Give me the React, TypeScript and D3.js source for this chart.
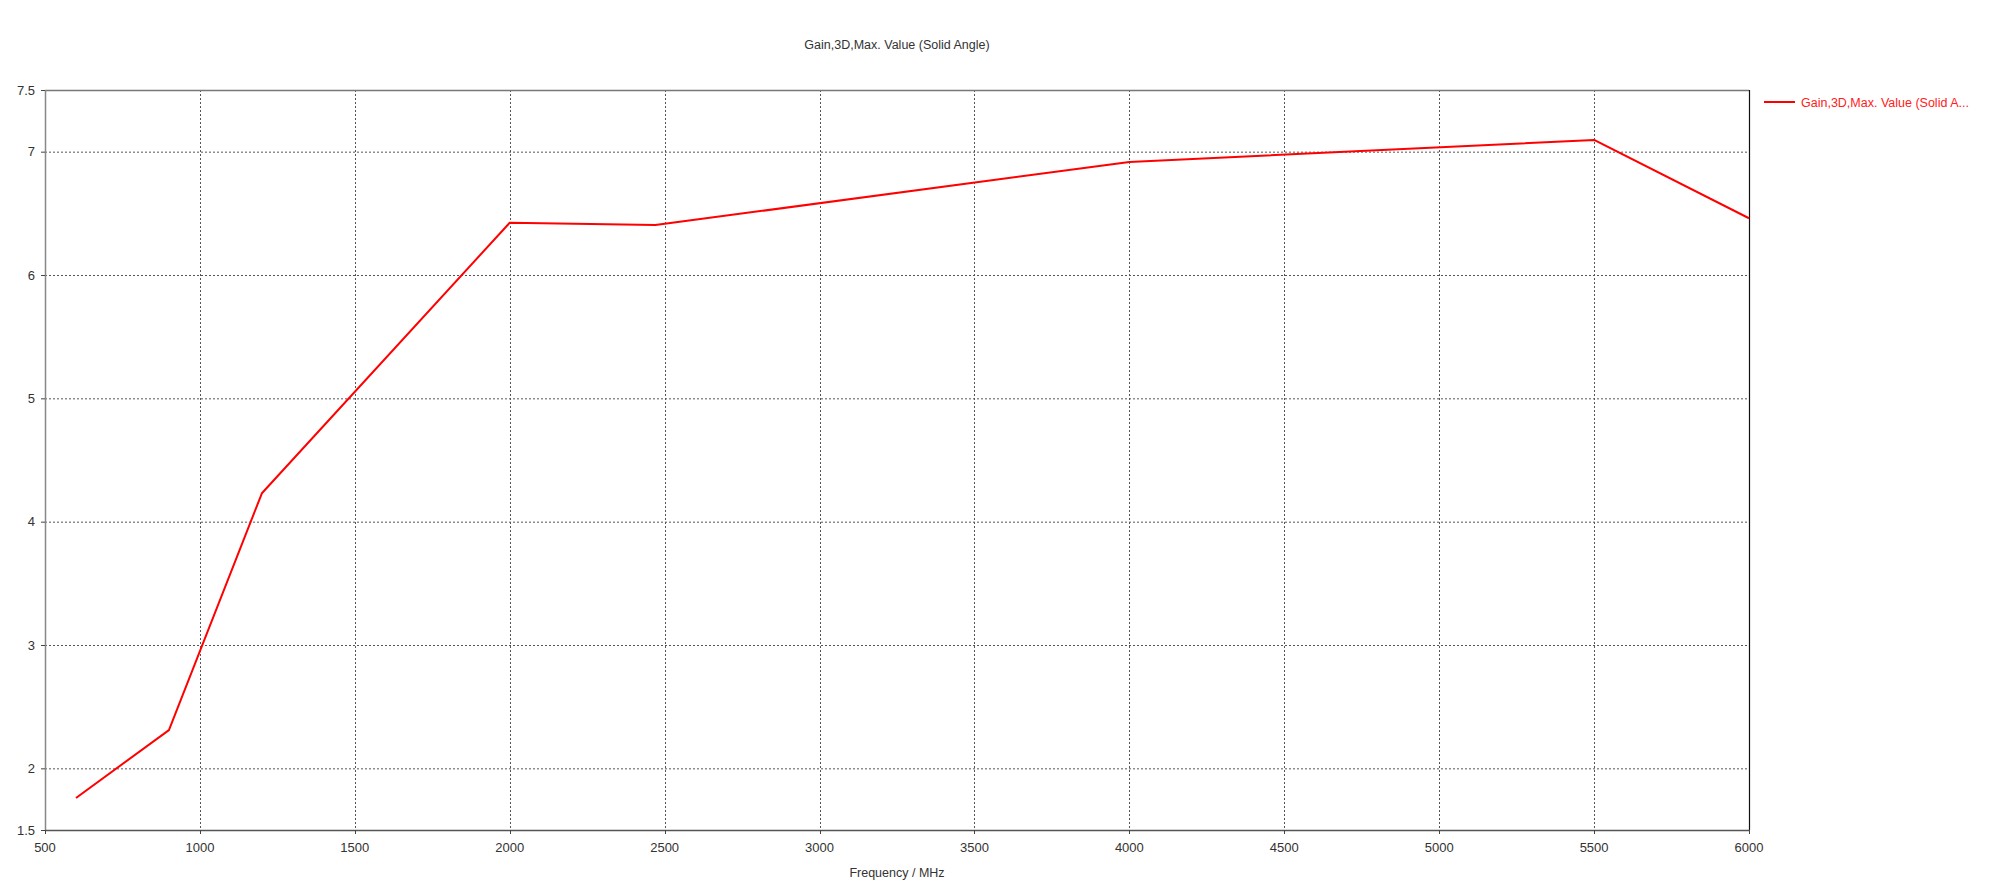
import React from "react";
import * as d3 from "d3";

const freqs = [600, 900, 1200, 2000, 2470, 4000, 5500, 6000];
const gain = [1.76, 2.31, 4.23, 6.424, 6.405, 6.916, 7.095, 6.46];
const xTicks = [500, 1000, 1500, 2000, 2500, 3000, 3500, 4000, 4500, 5000, 5500, 6000];
const yTicks = [1.5, 2, 3, 4, 5, 6, 7, 7.5];
const yGrid = [2, 3, 4, 5, 6, 7];
const xGrid = [1000, 1500, 2000, 2500, 3000, 3500, 4000, 4500, 5000, 5500];
const title = "Gain,3D,Max. Value (Solid Angle)";
const xLabel = "Frequency / MHz";
const legendLabel = "Gain,3D,Max. Value (Solid A...";

const W = 2000;
const H = 893;
const left = 45, right = 1749, top = 90, bottom = 830;
const font = "'Liberation Sans', Arial, sans-serif";

export default function App() {
  const x = d3.scaleLinear().domain([500, 6000]).range([left, right]);
  const y = d3.scaleLinear().domain([1.5, 7.5]).range([bottom, top]);
  const line = d3
    .line<number>()
    .x((_, i) => x(freqs[i]))
    .y((d) => y(d));
  const path = line(gain) || "";
  return (
    <svg
      width={W}
      height={H}
      style={{ position: "absolute", left: 0, top: 0, background: "#fff" }}
      xmlns="http://www.w3.org/2000/svg"
    >
      <rect x={0} y={0} width={W} height={H} fill="#fff" />
      <text x={897} y={49} textAnchor="middle" fontFamily={font} fontSize={12.5} fill="#333">
        {title}
      </text>
      {yGrid.map((v) => (
        <line key={"yg" + v} x1={left} x2={right} y1={y(v) + 0.5} y2={y(v) + 0.5} stroke="#555" strokeWidth={1} strokeDasharray="2,2" />
      ))}
      {xGrid.map((v) => (
        <line key={"xg" + v} x1={Math.round(x(v)) + 0.5} x2={Math.round(x(v)) + 0.5} y1={top} y2={bottom} stroke="#555" strokeWidth={1} strokeDasharray="2,2" />
      ))}
      <line x1={left} x2={right} y1={top + 0.5} y2={top + 0.5} stroke="#777" strokeWidth={1.5} />
      <line x1={right + 0.5} x2={right + 0.5} y1={top} y2={bottom} stroke="#111" strokeWidth={1.2} />
      <line x1={left + 0.5} x2={left + 0.5} y1={top} y2={bottom + 1} stroke="#888" strokeWidth={1.5} />
      <line x1={left} x2={right + 1} y1={bottom + 0.5} y2={bottom + 0.5} stroke="#555" strokeWidth={1.5} />
      {yTicks.map((v) => (
        <g key={"yt" + v}>
          <line x1={left - 4} x2={left} y1={y(v) + 0.5} y2={y(v) + 0.5} stroke="#444" strokeWidth={1} />
          <text x={35} y={y(v) + 4.5} textAnchor="end" fontFamily={font} fontSize={13} fill="#333">
            {v}
          </text>
        </g>
      ))}
      {xTicks.map((v) => (
        <g key={"xt" + v}>
          <line x1={Math.round(x(v)) + 0.5} x2={Math.round(x(v)) + 0.5} y1={bottom} y2={bottom + 4} stroke="#444" strokeWidth={1} />
          <text x={x(v)} y={852} textAnchor="middle" fontFamily={font} fontSize={13} fill="#333">
            {v}
          </text>
        </g>
      ))}
      <text x={897} y={877} textAnchor="middle" fontFamily={font} fontSize={12.5} fill="#333">
        {xLabel}
      </text>
      <path d={path} fill="none" stroke="#ff0000" strokeWidth={2} strokeLinejoin="round" />
      <line x1={1764} x2={1795} y1={102} y2={102} stroke="#ff0000" strokeWidth={2} />
      <text x={1801} y={107} fontFamily={font} fontSize={12.5} fill="#ff2020">
        {legendLabel}
      </text>
    </svg>
  );
}
